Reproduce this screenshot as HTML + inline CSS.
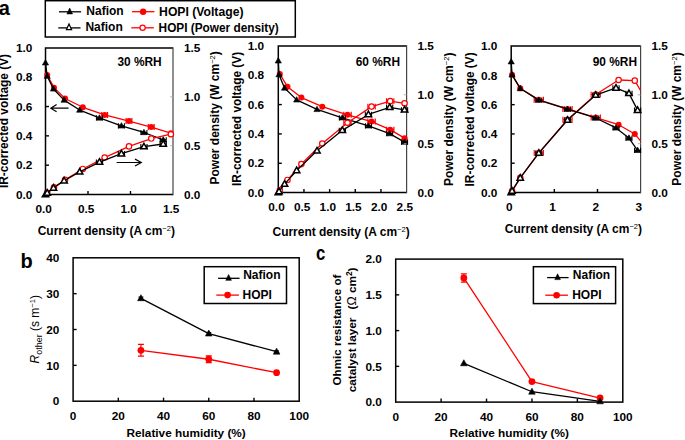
<!DOCTYPE html>
<html><head><meta charset="utf-8"><style>
html,body{margin:0;padding:0;background:#fff;}
svg{display:block;}
text{font-family:"Liberation Sans", sans-serif;}
</style></head><body>
<svg width="685" height="440" viewBox="0 0 685 440" font-family='"Liberation Sans", sans-serif'>
<rect width="685" height="440" fill="#fff"/>
<clipPath id="c1"><rect x="45.5" y="47.9" width="127.5" height="146.6"/></clipPath>
<path d="M173,47.9 H45.5 V194.5 H173" fill="none" stroke="#000" stroke-width="1.5"/>
<line x1="173" y1="47.2" x2="173" y2="195.2" stroke="#444" stroke-width="1.2" />
<polyline points="47.2,75.02 54,87.63 65.05,98.48 82.81,107.27 104.66,114.9 128.97,121.05 151.24,127.06 170.88,133.22" fill="none" stroke="#ff0000" stroke-width="1.3" stroke-linejoin="round" clip-path="url(#c1)"/>
<path d="M101.76,114.9 H107.56 M101.76,111.9 V117.9 M107.56,111.9 V117.9 M126.07,121.05 H131.87 M126.07,118.05 V124.05 M131.87,118.05 V124.05 M148.34,127.06 H154.14 M148.34,124.06 V130.06 M154.14,124.06 V130.06 " stroke="#ff0000" stroke-width="1.2" fill="none"/>
<circle cx="47.2" cy="75.02" r="3.0" fill="#ff0000"/>
<circle cx="54" cy="87.63" r="3.0" fill="#ff0000"/>
<circle cx="65.05" cy="98.48" r="3.0" fill="#ff0000"/>
<circle cx="82.81" cy="107.27" r="3.0" fill="#ff0000"/>
<circle cx="104.66" cy="114.9" r="3.0" fill="#ff0000"/>
<circle cx="128.97" cy="121.05" r="3.0" fill="#ff0000"/>
<circle cx="151.24" cy="127.06" r="3.0" fill="#ff0000"/>
<circle cx="170.88" cy="133.22" r="3.0" fill="#ff0000"/>
<polyline points="45.5,62.85 47.2,76.19 53.49,88.95 64.11,100.09 79.67,110.06 99.47,117.97 121.41,125.89 143.93,132.49 163.22,139.82" fill="none" stroke="#000" stroke-width="1.3" stroke-linejoin="round"/>
<path d="M96.47,117.97 H102.47 M96.47,115.37 V120.57 M102.47,115.37 V120.57 M118.41,125.89 H124.41 M118.41,123.29 V128.49 M124.41,123.29 V128.49 M140.93,132.49 H146.93 M140.93,129.89 V135.09 M146.93,129.89 V135.09 M160.22,139.82 H166.22 M160.22,137.22 V142.42 M166.22,137.22 V142.42 " stroke="#000" stroke-width="1.1" fill="none"/>
<polygon points="45.5,59.61 48.6,65.01 42.4,65.01" fill="#000" stroke="#000" stroke-width="0.6" stroke-linejoin="miter"/>
<polygon points="47.2,72.95 50.3,78.35 44.1,78.35" fill="#000" stroke="#000" stroke-width="0.6" stroke-linejoin="miter"/>
<polygon points="53.49,85.71 56.59,91.11 50.39,91.11" fill="#000" stroke="#000" stroke-width="0.6" stroke-linejoin="miter"/>
<polygon points="64.11,96.85 67.21,102.25 61.01,102.25" fill="#000" stroke="#000" stroke-width="0.6" stroke-linejoin="miter"/>
<polygon points="79.67,106.82 82.77,112.22 76.57,112.22" fill="#000" stroke="#000" stroke-width="0.6" stroke-linejoin="miter"/>
<polygon points="99.47,114.73 102.57,120.13 96.38,120.13" fill="#000" stroke="#000" stroke-width="0.6" stroke-linejoin="miter"/>
<polygon points="121.41,122.65 124.5,128.05 118.31,128.05" fill="#000" stroke="#000" stroke-width="0.6" stroke-linejoin="miter"/>
<polygon points="143.93,129.25 147.03,134.65 140.83,134.65" fill="#000" stroke="#000" stroke-width="0.6" stroke-linejoin="miter"/>
<polygon points="163.22,136.58 166.32,141.98 160.12,141.98" fill="#000" stroke="#000" stroke-width="0.6" stroke-linejoin="miter"/>
<polyline points="47.2,192.91 54,187.38 65.05,179.78 82.81,168.97 104.66,157.56 128.97,146.42 151.24,138.57 170.88,134.24" fill="none" stroke="#ff0000" stroke-width="1.3" stroke-linejoin="round" clip-path="url(#c1)"/>
<circle cx="47.2" cy="192.91" r="2.6999999999999997" fill="#fff" stroke="#ff0000" stroke-width="1.2"/>
<circle cx="54" cy="187.38" r="2.6999999999999997" fill="#fff" stroke="#ff0000" stroke-width="1.2"/>
<circle cx="65.05" cy="179.78" r="2.6999999999999997" fill="#fff" stroke="#ff0000" stroke-width="1.2"/>
<circle cx="82.81" cy="168.97" r="2.6999999999999997" fill="#fff" stroke="#ff0000" stroke-width="1.2"/>
<circle cx="104.66" cy="157.56" r="2.6999999999999997" fill="#fff" stroke="#ff0000" stroke-width="1.2"/>
<circle cx="128.97" cy="146.42" r="2.6999999999999997" fill="#fff" stroke="#ff0000" stroke-width="1.2"/>
<circle cx="151.24" cy="138.57" r="2.6999999999999997" fill="#fff" stroke="#ff0000" stroke-width="1.2"/>
<circle cx="170.88" cy="134.24" r="2.6999999999999997" fill="#fff" stroke="#ff0000" stroke-width="1.2"/>
<polyline points="45.5,194.5 47.2,192.92 53.49,187.89 64.11,180.72 79.67,171.87 99.47,162.1 121.41,153.65 143.93,146.63 163.22,144.01" fill="none" stroke="#000" stroke-width="1.3" stroke-linejoin="round"/>
<path d="M96.38,162.1 H102.57 M96.38,159.4 V164.8 M102.57,159.4 V164.8 M118.31,153.65 H124.5 M118.31,150.95 V156.35 M124.5,150.95 V156.35 M140.83,146.63 H147.03 M140.83,143.93 V149.33 M147.03,143.93 V149.33 M160.12,144.01 H166.32 M160.12,141.31 V146.71 M166.32,141.31 V146.71 " stroke="#000" stroke-width="1.1" fill="none"/>
<polygon points="45.5,191.14 48.7,196.74 42.3,196.74" fill="#fff" stroke="#000" stroke-width="1.5" stroke-linejoin="miter"/>
<polygon points="47.2,189.56 50.4,195.16 44,195.16" fill="#fff" stroke="#000" stroke-width="1.5" stroke-linejoin="miter"/>
<polygon points="53.49,184.53 56.69,190.13 50.29,190.13" fill="#fff" stroke="#000" stroke-width="1.5" stroke-linejoin="miter"/>
<polygon points="64.11,177.36 67.31,182.96 60.91,182.96" fill="#fff" stroke="#000" stroke-width="1.5" stroke-linejoin="miter"/>
<polygon points="79.67,168.51 82.87,174.11 76.47,174.11" fill="#fff" stroke="#000" stroke-width="1.5" stroke-linejoin="miter"/>
<polygon points="99.47,158.74 102.67,164.34 96.27,164.34" fill="#fff" stroke="#000" stroke-width="1.5" stroke-linejoin="miter"/>
<polygon points="121.41,150.29 124.61,155.89 118.2,155.89" fill="#fff" stroke="#000" stroke-width="1.5" stroke-linejoin="miter"/>
<polygon points="143.93,143.27 147.13,148.87 140.73,148.87" fill="#fff" stroke="#000" stroke-width="1.5" stroke-linejoin="miter"/>
<polygon points="163.22,140.65 166.42,146.25 160.03,146.25" fill="#fff" stroke="#000" stroke-width="1.5" stroke-linejoin="miter"/>
<line x1="45.5" y1="165.18" x2="49" y2="165.18" stroke="#000" stroke-width="1.4" />
<line x1="45.5" y1="135.86" x2="49" y2="135.86" stroke="#000" stroke-width="1.4" />
<line x1="45.5" y1="106.54" x2="49" y2="106.54" stroke="#000" stroke-width="1.4" />
<line x1="45.5" y1="77.22" x2="49" y2="77.22" stroke="#000" stroke-width="1.4" />
<text x="32.3" y="198.72" font-size="11.8" text-anchor="end" font-weight="bold" fill="#000" >0.0</text>
<text x="32.3" y="169.4" font-size="11.8" text-anchor="end" font-weight="bold" fill="#000" >0.2</text>
<text x="32.3" y="140.08" font-size="11.8" text-anchor="end" font-weight="bold" fill="#000" >0.4</text>
<text x="32.3" y="110.76" font-size="11.8" text-anchor="end" font-weight="bold" fill="#000" >0.6</text>
<text x="32.3" y="81.44" font-size="11.8" text-anchor="end" font-weight="bold" fill="#000" >0.8</text>
<text x="32.3" y="52.12" font-size="11.8" text-anchor="end" font-weight="bold" fill="#000" >1.0</text>
<line x1="173" y1="145.63" x2="170.2" y2="145.63" stroke="#aaa" stroke-width="0.9" />
<line x1="173" y1="96.77" x2="170.2" y2="96.77" stroke="#aaa" stroke-width="0.9" />
<text x="184" y="198.72" font-size="11.8" text-anchor="start" font-weight="bold" fill="#000" >0.0</text>
<text x="184" y="149.86" font-size="11.8" text-anchor="start" font-weight="bold" fill="#000" >0.5</text>
<text x="184" y="100.99" font-size="11.8" text-anchor="start" font-weight="bold" fill="#000" >1.0</text>
<text x="184" y="52.12" font-size="11.8" text-anchor="start" font-weight="bold" fill="#000" >1.5</text>
<line x1="88" y1="194.5" x2="88" y2="191" stroke="#000" stroke-width="1.4" />
<line x1="130.5" y1="194.5" x2="130.5" y2="191" stroke="#000" stroke-width="1.4" />
<text x="43.7" y="212.6" font-size="11.8" text-anchor="middle" font-weight="bold" fill="#000" >0.0</text>
<text x="86.2" y="212.6" font-size="11.8" text-anchor="middle" font-weight="bold" fill="#000" >0.5</text>
<text x="128.7" y="212.6" font-size="11.8" text-anchor="middle" font-weight="bold" fill="#000" >1.0</text>
<text x="171.2" y="212.6" font-size="11.8" text-anchor="middle" font-weight="bold" fill="#000" >1.5</text>
<text x="117.4" y="66" font-size="11.9" text-anchor="start" font-weight="bold" fill="#000" >30 %RH</text>
<clipPath id="c2"><rect x="278.3" y="45.9" width="128.3" height="146.7"/></clipPath>
<path d="M406.6,45.9 H278.3 V192.6 H406.6" fill="none" stroke="#000" stroke-width="1.5"/>
<line x1="406.6" y1="45.2" x2="406.6" y2="193.3" stroke="#444" stroke-width="1.2" />
<polyline points="279.84,74.07 287.49,86.68 301.39,97.54 322.28,106.63 347.48,114.85 371.55,121.6 390.18,129.67 404.55,138.17" fill="none" stroke="#ff0000" stroke-width="1.3" stroke-linejoin="round" clip-path="url(#c2)"/>
<path d="M343.78,114.85 H351.18 M343.78,111.85 V117.85 M351.18,111.85 V117.85 M367.85,121.6 H375.25 M367.85,118.6 V124.6 M375.25,118.6 V124.6 M386.48,129.67 H393.88 M386.48,126.67 V132.67 M393.88,126.67 V132.67 " stroke="#ff0000" stroke-width="1.2" fill="none"/>
<circle cx="279.84" cy="74.07" r="3.0" fill="#ff0000"/>
<circle cx="287.49" cy="86.68" r="3.0" fill="#ff0000"/>
<circle cx="301.39" cy="97.54" r="3.0" fill="#ff0000"/>
<circle cx="322.28" cy="106.63" r="3.0" fill="#ff0000"/>
<circle cx="347.48" cy="114.85" r="3.0" fill="#ff0000"/>
<circle cx="371.55" cy="121.6" r="3.0" fill="#ff0000"/>
<circle cx="390.18" cy="129.67" r="3.0" fill="#ff0000"/>
<circle cx="404.55" cy="138.17" r="3.0" fill="#ff0000"/>
<polyline points="278.3,60.86 279.02,74.65 284.56,88 296.67,99.89 317,109.42 342.35,117.78 368.42,125.85 389.66,133.63 404.55,142.14" fill="none" stroke="#000" stroke-width="1.3" stroke-linejoin="round"/>
<path d="M339.35,117.78 H345.35 M339.35,115.18 V120.38 M345.35,115.18 V120.38 M365.42,125.85 H371.42 M365.42,123.25 V128.45 M371.42,123.25 V128.45 M386.66,133.63 H392.66 M386.66,131.03 V136.23 M392.66,131.03 V136.23 M401.55,142.14 H407.55 M401.55,139.54 V144.74 M407.55,139.54 V144.74 " stroke="#000" stroke-width="1.1" fill="none"/>
<polygon points="278.3,57.62 281.4,63.02 275.2,63.02" fill="#000" stroke="#000" stroke-width="0.6" stroke-linejoin="miter"/>
<polygon points="279.02,71.41 282.12,76.81 275.92,76.81" fill="#000" stroke="#000" stroke-width="0.6" stroke-linejoin="miter"/>
<polygon points="284.56,84.76 287.66,90.16 281.46,90.16" fill="#000" stroke="#000" stroke-width="0.6" stroke-linejoin="miter"/>
<polygon points="296.67,96.65 299.77,102.05 293.57,102.05" fill="#000" stroke="#000" stroke-width="0.6" stroke-linejoin="miter"/>
<polygon points="317,106.18 320.1,111.58 313.9,111.58" fill="#000" stroke="#000" stroke-width="0.6" stroke-linejoin="miter"/>
<polygon points="342.35,114.54 345.45,119.94 339.25,119.94" fill="#000" stroke="#000" stroke-width="0.6" stroke-linejoin="miter"/>
<polygon points="368.42,122.61 371.52,128.01 365.32,128.01" fill="#000" stroke="#000" stroke-width="0.6" stroke-linejoin="miter"/>
<polygon points="389.66,130.39 392.76,135.79 386.56,135.79" fill="#000" stroke="#000" stroke-width="0.6" stroke-linejoin="miter"/>
<polygon points="404.55,138.9 407.65,144.3 401.45,144.3" fill="#000" stroke="#000" stroke-width="0.6" stroke-linejoin="miter"/>
<polyline points="279.84,190.23 287.49,179.96 301.39,164.08 322.28,143.48 347.48,122.73 371.55,106.59 390.18,101.14 404.55,103.34" fill="none" stroke="#ff0000" stroke-width="1.3" stroke-linejoin="round" clip-path="url(#c2)"/>
<path d="M343.78,122.73 H351.18 M343.78,119.83 V125.63 M351.18,119.83 V125.63 M367.85,106.59 H375.25 M367.85,103.69 V109.49 M375.25,103.69 V109.49 M386.48,101.14 H393.88 M386.48,98.24 V104.04 M393.88,98.24 V104.04 " stroke="#ff0000" stroke-width="1.1" fill="none"/>
<circle cx="279.84" cy="190.23" r="2.6999999999999997" fill="#fff" stroke="#ff0000" stroke-width="1.2"/>
<circle cx="287.49" cy="179.96" r="2.6999999999999997" fill="#fff" stroke="#ff0000" stroke-width="1.2"/>
<circle cx="301.39" cy="164.08" r="2.6999999999999997" fill="#fff" stroke="#ff0000" stroke-width="1.2"/>
<circle cx="322.28" cy="143.48" r="2.6999999999999997" fill="#fff" stroke="#ff0000" stroke-width="1.2"/>
<circle cx="347.48" cy="122.73" r="2.6999999999999997" fill="#fff" stroke="#ff0000" stroke-width="1.2"/>
<circle cx="371.55" cy="106.59" r="2.6999999999999997" fill="#fff" stroke="#ff0000" stroke-width="1.2"/>
<circle cx="390.18" cy="101.14" r="2.6999999999999997" fill="#fff" stroke="#ff0000" stroke-width="1.2"/>
<circle cx="404.55" cy="103.34" r="2.6999999999999997" fill="#fff" stroke="#ff0000" stroke-width="1.2"/>
<polyline points="278.3,192.6 279.02,191.5 284.56,184.09 296.67,170.47 317,150.79 342.35,130.35 368.42,114.46 389.66,107.29 404.55,109.84" fill="none" stroke="#000" stroke-width="1.3" stroke-linejoin="round"/>
<path d="M339.25,130.35 H345.45 M339.25,127.65 V133.05 M345.45,127.65 V133.05 M365.32,114.46 H371.52 M365.32,111.76 V117.16 M371.52,111.76 V117.16 M386.56,107.29 H392.76 M386.56,104.59 V109.99 M392.76,104.59 V109.99 M401.45,109.84 H407.65 M401.45,107.14 V112.54 M407.65,107.14 V112.54 " stroke="#000" stroke-width="1.1" fill="none"/>
<polygon points="278.3,189.24 281.5,194.84 275.1,194.84" fill="#fff" stroke="#000" stroke-width="1.5" stroke-linejoin="miter"/>
<polygon points="279.02,188.14 282.22,193.74 275.82,193.74" fill="#fff" stroke="#000" stroke-width="1.5" stroke-linejoin="miter"/>
<polygon points="284.56,180.73 287.76,186.33 281.36,186.33" fill="#fff" stroke="#000" stroke-width="1.5" stroke-linejoin="miter"/>
<polygon points="296.67,167.11 299.87,172.71 293.47,172.71" fill="#fff" stroke="#000" stroke-width="1.5" stroke-linejoin="miter"/>
<polygon points="317,147.43 320.2,153.03 313.8,153.03" fill="#fff" stroke="#000" stroke-width="1.5" stroke-linejoin="miter"/>
<polygon points="342.35,126.99 345.55,132.59 339.15,132.59" fill="#fff" stroke="#000" stroke-width="1.5" stroke-linejoin="miter"/>
<polygon points="368.42,111.1 371.62,116.7 365.22,116.7" fill="#fff" stroke="#000" stroke-width="1.5" stroke-linejoin="miter"/>
<polygon points="389.66,103.93 392.86,109.53 386.46,109.53" fill="#fff" stroke="#000" stroke-width="1.5" stroke-linejoin="miter"/>
<polygon points="404.55,106.48 407.75,112.08 401.35,112.08" fill="#fff" stroke="#000" stroke-width="1.5" stroke-linejoin="miter"/>
<line x1="278.3" y1="163.26" x2="281.8" y2="163.26" stroke="#000" stroke-width="1.4" />
<line x1="278.3" y1="133.92" x2="281.8" y2="133.92" stroke="#000" stroke-width="1.4" />
<line x1="278.3" y1="104.58" x2="281.8" y2="104.58" stroke="#000" stroke-width="1.4" />
<line x1="278.3" y1="75.24" x2="281.8" y2="75.24" stroke="#000" stroke-width="1.4" />
<text x="264.1" y="196.82" font-size="11.8" text-anchor="end" font-weight="bold" fill="#000" >0.0</text>
<text x="264.1" y="167.48" font-size="11.8" text-anchor="end" font-weight="bold" fill="#000" >0.2</text>
<text x="264.1" y="138.14" font-size="11.8" text-anchor="end" font-weight="bold" fill="#000" >0.4</text>
<text x="264.1" y="108.8" font-size="11.8" text-anchor="end" font-weight="bold" fill="#000" >0.6</text>
<text x="264.1" y="79.46" font-size="11.8" text-anchor="end" font-weight="bold" fill="#000" >0.8</text>
<text x="264.1" y="50.12" font-size="11.8" text-anchor="end" font-weight="bold" fill="#000" >1.0</text>
<line x1="406.6" y1="143.7" x2="403.8" y2="143.7" stroke="#aaa" stroke-width="0.9" />
<line x1="406.6" y1="94.8" x2="403.8" y2="94.8" stroke="#aaa" stroke-width="0.9" />
<text x="417.5" y="196.82" font-size="11.8" text-anchor="start" font-weight="bold" fill="#000" >0.0</text>
<text x="417.5" y="147.92" font-size="11.8" text-anchor="start" font-weight="bold" fill="#000" >0.5</text>
<text x="417.5" y="99.02" font-size="11.8" text-anchor="start" font-weight="bold" fill="#000" >1.0</text>
<text x="417.5" y="50.12" font-size="11.8" text-anchor="start" font-weight="bold" fill="#000" >1.5</text>
<line x1="303.96" y1="192.6" x2="303.96" y2="189.1" stroke="#000" stroke-width="1.4" />
<line x1="329.62" y1="192.6" x2="329.62" y2="189.1" stroke="#000" stroke-width="1.4" />
<line x1="355.28" y1="192.6" x2="355.28" y2="189.1" stroke="#000" stroke-width="1.4" />
<line x1="380.94" y1="192.6" x2="380.94" y2="189.1" stroke="#000" stroke-width="1.4" />
<text x="276.5" y="210.8" font-size="11.8" text-anchor="middle" font-weight="bold" fill="#000" >0.0</text>
<text x="302.16" y="210.8" font-size="11.8" text-anchor="middle" font-weight="bold" fill="#000" >0.5</text>
<text x="327.82" y="210.8" font-size="11.8" text-anchor="middle" font-weight="bold" fill="#000" >1.0</text>
<text x="353.48" y="210.8" font-size="11.8" text-anchor="middle" font-weight="bold" fill="#000" >1.5</text>
<text x="379.14" y="210.8" font-size="11.8" text-anchor="middle" font-weight="bold" fill="#000" >2.0</text>
<text x="404.8" y="210.8" font-size="11.8" text-anchor="middle" font-weight="bold" fill="#000" >2.5</text>
<text x="355.7" y="66" font-size="11.9" text-anchor="start" font-weight="bold" fill="#000" >60 %RH</text>
<clipPath id="c3"><rect x="511.2" y="46.1" width="129.4" height="146.4"/></clipPath>
<path d="M640.6,46.1 H511.2 V192.5 H640.6" fill="none" stroke="#000" stroke-width="1.5"/>
<line x1="640.6" y1="45.4" x2="640.6" y2="193.2" stroke="#444" stroke-width="1.2" />
<polyline points="512.06,74.65 520.26,88.26 538.81,99.83 567.49,108.91 595.74,117.54 618.6,124.72 634.78,133.94 649.23,151.51" fill="none" stroke="#ff0000" stroke-width="1.3" stroke-linejoin="round" clip-path="url(#c3)"/>
<path d="M534.21,99.83 H543.41 M534.21,96.83 V102.83 M543.41,96.83 V102.83 M562.89,108.91 H572.09 M562.89,105.91 V111.91 M572.09,105.91 V111.91 M591.14,117.54 H600.34 M591.14,114.54 V120.54 M600.34,114.54 V120.54 " stroke="#ff0000" stroke-width="1.2" fill="none"/>
<circle cx="512.06" cy="74.65" r="3.0" fill="#ff0000"/>
<circle cx="520.26" cy="88.26" r="3.0" fill="#ff0000"/>
<circle cx="538.81" cy="99.83" r="3.0" fill="#ff0000"/>
<circle cx="567.49" cy="108.91" r="3.0" fill="#ff0000"/>
<circle cx="595.74" cy="117.54" r="3.0" fill="#ff0000"/>
<circle cx="618.6" cy="124.72" r="3.0" fill="#ff0000"/>
<circle cx="634.78" cy="133.94" r="3.0" fill="#ff0000"/>
<polyline points="511.2,61.76 512.06,74.94 520.26,88.56 538.81,100.12 567.49,109.2 595.74,117.98 616.01,127.94 628.95,138.04 637.58,150.34" fill="none" stroke="#000" stroke-width="1.3" stroke-linejoin="round"/>
<path d="M535.81,100.12 H541.81 M535.81,97.52 V102.72 M541.81,97.52 V102.72 M564.49,109.2 H570.49 M564.49,106.6 V111.8 M570.49,106.6 V111.8 M592.74,117.98 H598.74 M592.74,115.38 V120.58 M598.74,115.38 V120.58 M613.01,127.94 H619.01 M613.01,125.34 V130.54 M619.01,125.34 V130.54 M625.95,138.04 H631.95 M625.95,135.44 V140.64 M631.95,135.44 V140.64 M634.58,150.34 H640.58 M634.58,147.74 V152.94 M640.58,147.74 V152.94 " stroke="#000" stroke-width="1.1" fill="none"/>
<polygon points="511.2,58.52 514.3,63.92 508.1,63.92" fill="#000" stroke="#000" stroke-width="0.6" stroke-linejoin="miter"/>
<polygon points="512.06,71.7 515.16,77.1 508.96,77.1" fill="#000" stroke="#000" stroke-width="0.6" stroke-linejoin="miter"/>
<polygon points="520.26,85.32 523.36,90.72 517.16,90.72" fill="#000" stroke="#000" stroke-width="0.6" stroke-linejoin="miter"/>
<polygon points="538.81,96.88 541.91,102.28 535.71,102.28" fill="#000" stroke="#000" stroke-width="0.6" stroke-linejoin="miter"/>
<polygon points="567.49,105.96 570.59,111.36 564.39,111.36" fill="#000" stroke="#000" stroke-width="0.6" stroke-linejoin="miter"/>
<polygon points="595.74,114.74 598.84,120.14 592.64,120.14" fill="#000" stroke="#000" stroke-width="0.6" stroke-linejoin="miter"/>
<polygon points="616.01,124.7 619.11,130.1 612.91,130.1" fill="#000" stroke="#000" stroke-width="0.6" stroke-linejoin="miter"/>
<polygon points="628.95,134.8 632.05,140.2 625.85,140.2" fill="#000" stroke="#000" stroke-width="0.6" stroke-linejoin="miter"/>
<polygon points="637.58,147.1 640.68,152.5 634.48,152.5" fill="#000" stroke="#000" stroke-width="0.6" stroke-linejoin="miter"/>
<polyline points="512.06,190.93 520.26,177.91 538.81,152.96 567.49,119.77 595.74,94.56 618.6,79.98 634.78,80.65 649.23,105.05" fill="none" stroke="#ff0000" stroke-width="1.3" stroke-linejoin="round" clip-path="url(#c3)"/>
<path d="M534.21,152.96 H543.41 M534.21,150.06 V155.86 M543.41,150.06 V155.86 M562.89,119.77 H572.09 M562.89,116.87 V122.67 M572.09,116.87 V122.67 M591.14,94.56 H600.34 M591.14,91.66 V97.46 M600.34,91.66 V97.46 " stroke="#ff0000" stroke-width="1.1" fill="none"/>
<circle cx="512.06" cy="190.93" r="2.6999999999999997" fill="#fff" stroke="#ff0000" stroke-width="1.2"/>
<circle cx="520.26" cy="177.91" r="2.6999999999999997" fill="#fff" stroke="#ff0000" stroke-width="1.2"/>
<circle cx="538.81" cy="152.96" r="2.6999999999999997" fill="#fff" stroke="#ff0000" stroke-width="1.2"/>
<circle cx="567.49" cy="119.77" r="2.6999999999999997" fill="#fff" stroke="#ff0000" stroke-width="1.2"/>
<circle cx="595.74" cy="94.56" r="2.6999999999999997" fill="#fff" stroke="#ff0000" stroke-width="1.2"/>
<circle cx="618.6" cy="79.98" r="2.6999999999999997" fill="#fff" stroke="#ff0000" stroke-width="1.2"/>
<circle cx="634.78" cy="80.65" r="2.6999999999999997" fill="#fff" stroke="#ff0000" stroke-width="1.2"/>
<polyline points="511.2,192.5 512.06,190.93 520.26,177.95 538.81,153.09 567.49,120.03 595.74,95.13 616.01,87.91 628.95,93.38 637.58,110.14" fill="none" stroke="#000" stroke-width="1.3" stroke-linejoin="round"/>
<path d="M535.71,153.09 H541.91 M535.71,150.39 V155.79 M541.91,150.39 V155.79 M564.39,120.03 H570.59 M564.39,117.33 V122.73 M570.59,117.33 V122.73 M592.64,95.13 H598.84 M592.64,92.43 V97.83 M598.84,92.43 V97.83 M612.91,87.91 H619.11 M612.91,85.21 V90.61 M619.11,85.21 V90.61 M625.85,93.38 H632.05 M625.85,90.68 V96.08 M632.05,90.68 V96.08 M634.48,110.14 H640.68 M634.48,107.44 V112.84 M640.68,107.44 V112.84 " stroke="#000" stroke-width="1.1" fill="none"/>
<polygon points="511.2,189.14 514.4,194.74 508,194.74" fill="#fff" stroke="#000" stroke-width="1.5" stroke-linejoin="miter"/>
<polygon points="512.06,187.57 515.26,193.17 508.86,193.17" fill="#fff" stroke="#000" stroke-width="1.5" stroke-linejoin="miter"/>
<polygon points="520.26,174.59 523.46,180.19 517.06,180.19" fill="#fff" stroke="#000" stroke-width="1.5" stroke-linejoin="miter"/>
<polygon points="538.81,149.73 542.01,155.33 535.61,155.33" fill="#fff" stroke="#000" stroke-width="1.5" stroke-linejoin="miter"/>
<polygon points="567.49,116.67 570.69,122.27 564.29,122.27" fill="#fff" stroke="#000" stroke-width="1.5" stroke-linejoin="miter"/>
<polygon points="595.74,91.77 598.94,97.37 592.54,97.37" fill="#fff" stroke="#000" stroke-width="1.5" stroke-linejoin="miter"/>
<polygon points="616.01,84.55 619.21,90.15 612.81,90.15" fill="#fff" stroke="#000" stroke-width="1.5" stroke-linejoin="miter"/>
<polygon points="628.95,90.02 632.15,95.62 625.75,95.62" fill="#fff" stroke="#000" stroke-width="1.5" stroke-linejoin="miter"/>
<polygon points="637.58,106.78 640.78,112.38 634.38,112.38" fill="#fff" stroke="#000" stroke-width="1.5" stroke-linejoin="miter"/>
<line x1="511.2" y1="163.22" x2="514.7" y2="163.22" stroke="#000" stroke-width="1.4" />
<line x1="511.2" y1="133.94" x2="514.7" y2="133.94" stroke="#000" stroke-width="1.4" />
<line x1="511.2" y1="104.66" x2="514.7" y2="104.66" stroke="#000" stroke-width="1.4" />
<line x1="511.2" y1="75.38" x2="514.7" y2="75.38" stroke="#000" stroke-width="1.4" />
<text x="497.3" y="196.72" font-size="11.8" text-anchor="end" font-weight="bold" fill="#000" >0.0</text>
<text x="497.3" y="167.44" font-size="11.8" text-anchor="end" font-weight="bold" fill="#000" >0.2</text>
<text x="497.3" y="138.16" font-size="11.8" text-anchor="end" font-weight="bold" fill="#000" >0.4</text>
<text x="497.3" y="108.88" font-size="11.8" text-anchor="end" font-weight="bold" fill="#000" >0.6</text>
<text x="497.3" y="79.6" font-size="11.8" text-anchor="end" font-weight="bold" fill="#000" >0.8</text>
<text x="497.3" y="50.32" font-size="11.8" text-anchor="end" font-weight="bold" fill="#000" >1.0</text>
<line x1="640.6" y1="143.7" x2="637.8" y2="143.7" stroke="#aaa" stroke-width="0.9" />
<line x1="640.6" y1="94.9" x2="637.8" y2="94.9" stroke="#aaa" stroke-width="0.9" />
<text x="651.5" y="196.72" font-size="11.8" text-anchor="start" font-weight="bold" fill="#000" >0.0</text>
<text x="651.5" y="147.92" font-size="11.8" text-anchor="start" font-weight="bold" fill="#000" >0.5</text>
<text x="651.5" y="99.12" font-size="11.8" text-anchor="start" font-weight="bold" fill="#000" >1.0</text>
<text x="651.5" y="50.32" font-size="11.8" text-anchor="start" font-weight="bold" fill="#000" >1.5</text>
<line x1="554.33" y1="192.5" x2="554.33" y2="189" stroke="#000" stroke-width="1.4" />
<line x1="597.47" y1="192.5" x2="597.47" y2="189" stroke="#000" stroke-width="1.4" />
<text x="509.4" y="210.5" font-size="11.8" text-anchor="middle" font-weight="bold" fill="#000" >0</text>
<text x="552.53" y="210.5" font-size="11.8" text-anchor="middle" font-weight="bold" fill="#000" >1</text>
<text x="595.67" y="210.5" font-size="11.8" text-anchor="middle" font-weight="bold" fill="#000" >2</text>
<text x="638.8" y="210.5" font-size="11.8" text-anchor="middle" font-weight="bold" fill="#000" >3</text>
<text x="592.7" y="65.9" font-size="11.9" text-anchor="start" font-weight="bold" fill="#000" >90 %RH</text>
<text x="37.7" y="234.8" font-size="12.1" font-weight="bold" textLength="137.2" lengthAdjust="spacingAndGlyphs">Current density (A cm<tspan baseline-shift="super" font-size="7.6" font-weight="normal">−2</tspan>)</text>
<text x="272.5" y="235.5" font-size="12.1" font-weight="bold" textLength="137.2" lengthAdjust="spacingAndGlyphs">Current density (A cm<tspan baseline-shift="super" font-size="7.6" font-weight="normal">−2</tspan>)</text>
<text x="504.8" y="232.6" font-size="12.1" font-weight="bold" textLength="137.2" lengthAdjust="spacingAndGlyphs">Current density (A cm<tspan baseline-shift="super" font-size="7.6" font-weight="normal">−2</tspan>)</text>
<text transform="translate(8.2,121) rotate(-90)" x="0" y="0" font-size="11.9" font-weight="bold" text-anchor="middle">IR-corrected voltage (V)</text>
<text transform="translate(240.8,118.9) rotate(-90)" x="0" y="0" font-size="11.9" font-weight="bold" text-anchor="middle">IR-corrected voltage (V)</text>
<text transform="translate(474.2,119.4) rotate(-90)" x="0" y="0" font-size="11.9" font-weight="bold" text-anchor="middle">IR-corrected voltage (V)</text>
<text transform="translate(218.8,117.85) rotate(-90)" x="0" y="0" font-size="12.0" font-weight="bold" text-anchor="middle">Power density (W cm<tspan baseline-shift="super" font-size="7.6" font-weight="normal">−2</tspan>)</text>
<text transform="translate(452.5,119.25) rotate(-90)" x="0" y="0" font-size="12.0" font-weight="bold" text-anchor="middle">Power density (W cm<tspan baseline-shift="super" font-size="7.6" font-weight="normal">−2</tspan>)</text>
<text transform="translate(681.4,119) rotate(-90)" x="0" y="0" font-size="12.0" font-weight="bold" text-anchor="middle">Power density (W cm<tspan baseline-shift="super" font-size="7.6" font-weight="normal">−2</tspan>)</text>
<rect x="45.3" y="0.7" width="250" height="36.3" fill="none" stroke="#000" stroke-width="1.5"/>
<line x1="59" y1="11.8" x2="81.1" y2="11.8" stroke="#000" stroke-width="1.3" />
<polygon points="69.7,8.12 72.5,13.92 66.9,13.92" fill="#000" stroke="#000" stroke-width="0.6" stroke-linejoin="miter"/>
<line x1="58.3" y1="27.9" x2="80.5" y2="27.9" stroke="#000" stroke-width="1.3" />
<polygon points="69,24.04 71.6,29.64 66.4,29.64" fill="#fff" stroke="#000" stroke-width="1.2" stroke-linejoin="miter"/>
<line x1="132.1" y1="11.7" x2="154.4" y2="11.7" stroke="#ff0000" stroke-width="1.3" />
<circle cx="143.1" cy="11.7" r="3.2" fill="#ff0000"/>
<line x1="131.3" y1="27.8" x2="153.8" y2="27.8" stroke="#ff0000" stroke-width="1.3" />
<circle cx="142.6" cy="27.8" r="2.6" fill="#fff" stroke="#ff0000" stroke-width="1.2"/>
<text x="86.3" y="14.7" font-size="12.0" text-anchor="start" font-weight="bold" fill="#000" >Nafion</text>
<text x="85.4" y="30.7" font-size="12.0" text-anchor="start" font-weight="bold" fill="#000" >Nafion</text>
<text x="159.1" y="16" font-size="12.0" text-anchor="start" font-weight="bold" fill="#000" textLength="84.4" lengthAdjust="spacingAndGlyphs">HOPI (Voltage)</text>
<text x="158.6" y="31.7" font-size="12.0" text-anchor="start" font-weight="bold" fill="#000" textLength="120.2" lengthAdjust="spacingAndGlyphs">HOPI (Power density)</text>
<path d="M68.6,108.2 H50.8 M56.6,104.4 L50.8,108.2 L56.6,111.8" fill="none" stroke="#000" stroke-width="1.2"/>
<path d="M116.6,162.5 H141.3 M135,159.1 L141.3,162.5 L135,166.1" fill="none" stroke="#000" stroke-width="1.2"/>
<text x="-1.2" y="15" font-size="20" text-anchor="start" font-weight="bold" fill="#000" >a</text>
<text x="20.5" y="267.6" font-size="20" text-anchor="start" font-weight="bold" fill="#000" >b</text>
<text transform="translate(315.9,260.3) scale(0.84,1)" font-size="20" font-weight="bold">c</text>
<polyline points="140.93,350.29 208.76,359.26 276.59,372.7" fill="none" stroke="#ff0000" stroke-width="1.3" stroke-linejoin="round"/>
<path d="M140.93,344.38 V356.21 M137.93,344.38 h6 M137.93,356.21 h6" stroke="#ff0000" stroke-width="1.2" fill="none"/>
<circle cx="140.93" cy="350.29" r="3.4" fill="#ff0000"/>
<path d="M208.76,355.85 V362.66 M205.76,355.85 h6 M205.76,362.66 h6" stroke="#ff0000" stroke-width="1.2" fill="none"/>
<circle cx="208.76" cy="359.26" r="3.4" fill="#ff0000"/>
<circle cx="276.59" cy="372.7" r="3.4" fill="#ff0000"/>
<polyline points="140.93,298.31 208.76,333.62 276.59,351.73" fill="none" stroke="#000" stroke-width="1.3" stroke-linejoin="round"/>
<path d="M140.93,297.06 V299.57 M138.43,297.06 h5 M138.43,299.57 h5" stroke="#000" stroke-width="1" fill="none"/>
<polygon points="140.93,294.71 144.23,300.71 137.63,300.71" fill="#000" stroke="#000" stroke-width="0.6" stroke-linejoin="miter"/>
<path d="M208.76,332.55 V334.7 M206.26,332.55 h5 M206.26,334.7 h5" stroke="#000" stroke-width="1" fill="none"/>
<polygon points="208.76,330.02 212.06,336.02 205.46,336.02" fill="#000" stroke="#000" stroke-width="0.6" stroke-linejoin="miter"/>
<path d="M276.59,351.01 V352.44 M274.09,351.01 h5 M274.09,352.44 h5" stroke="#000" stroke-width="1" fill="none"/>
<polygon points="276.59,348.13 279.89,354.13 273.29,354.13" fill="#000" stroke="#000" stroke-width="0.6" stroke-linejoin="miter"/>
<rect x="73.1" y="257.8" width="226.1" height="143.4" fill="none" stroke="#000" stroke-width="1.5"/>
<line x1="73.1" y1="365.35" x2="76.6" y2="365.35" stroke="#000" stroke-width="1.4" />
<line x1="73.1" y1="329.5" x2="76.6" y2="329.5" stroke="#000" stroke-width="1.4" />
<line x1="73.1" y1="293.65" x2="76.6" y2="293.65" stroke="#000" stroke-width="1.4" />
<text x="59.4" y="405.42" font-size="11.8" text-anchor="end" font-weight="bold" fill="#000" >0</text>
<text x="59.4" y="369.57" font-size="11.8" text-anchor="end" font-weight="bold" fill="#000" >10</text>
<text x="59.4" y="333.72" font-size="11.8" text-anchor="end" font-weight="bold" fill="#000" >20</text>
<text x="59.4" y="297.87" font-size="11.8" text-anchor="end" font-weight="bold" fill="#000" >30</text>
<text x="59.4" y="262.02" font-size="11.8" text-anchor="end" font-weight="bold" fill="#000" >40</text>
<line x1="118.32" y1="401.2" x2="118.32" y2="397.7" stroke="#000" stroke-width="1.4" />
<line x1="163.54" y1="401.2" x2="163.54" y2="397.7" stroke="#000" stroke-width="1.4" />
<line x1="208.76" y1="401.2" x2="208.76" y2="397.7" stroke="#000" stroke-width="1.4" />
<line x1="253.98" y1="401.2" x2="253.98" y2="397.7" stroke="#000" stroke-width="1.4" />
<text x="73.1" y="419.5" font-size="11.8" text-anchor="middle" font-weight="bold" fill="#000" >0</text>
<text x="118.32" y="419.5" font-size="11.8" text-anchor="middle" font-weight="bold" fill="#000" >20</text>
<text x="163.54" y="419.5" font-size="11.8" text-anchor="middle" font-weight="bold" fill="#000" >40</text>
<text x="208.76" y="419.5" font-size="11.8" text-anchor="middle" font-weight="bold" fill="#000" >60</text>
<text x="253.98" y="419.5" font-size="11.8" text-anchor="middle" font-weight="bold" fill="#000" >80</text>
<text x="299.2" y="419.5" font-size="11.8" text-anchor="middle" font-weight="bold" fill="#000" >100</text>
<text x="186.15" y="436.8" font-size="11.8" text-anchor="middle" font-weight="bold" fill="#000" >Relative humidity (%)</text>
<rect x="204.2" y="266.7" width="82.3" height="36.8" fill="#fff" stroke="#000" stroke-width="1.5"/>
<line x1="218.1" y1="278.3" x2="239.6" y2="278.3" stroke="#000" stroke-width="1.3" />
<polygon points="228.6,274.52 231.4,280.32 225.8,280.32" fill="#000" stroke="#000" stroke-width="0.6" stroke-linejoin="miter"/>
<line x1="216.3" y1="295.1" x2="238.9" y2="295.1" stroke="#ff0000" stroke-width="1.3" />
<circle cx="227.6" cy="295.1" r="3.3" fill="#ff0000"/>
<text x="243.2" y="279.4" font-size="12.0" text-anchor="start" font-weight="bold" fill="#000" >Nafion</text>
<text x="242.6" y="298.8" font-size="12.0" text-anchor="start" font-weight="bold" fill="#000" >HOPI</text>
<polyline points="463.83,277.98 531.96,381.58 600.09,398.02" fill="none" stroke="#ff0000" stroke-width="1.3" stroke-linejoin="round"/>
<path d="M463.83,273.9 V282.05 M460.83,273.9 h6 M460.83,282.05 h6" stroke="#ff0000" stroke-width="1.2" fill="none"/>
<circle cx="463.83" cy="277.98" r="3.4" fill="#ff0000"/>
<circle cx="531.96" cy="381.58" r="3.4" fill="#ff0000"/>
<circle cx="600.09" cy="398.02" r="3.4" fill="#ff0000"/>
<polyline points="463.83,363.35 531.96,391.73 600.09,401.39" fill="none" stroke="#000" stroke-width="1.3" stroke-linejoin="round"/>
<polygon points="463.83,359.75 467.13,365.75 460.53,365.75" fill="#000" stroke="#000" stroke-width="0.6" stroke-linejoin="miter"/>
<polygon points="531.96,388.13 535.26,394.13 528.66,394.13" fill="#000" stroke="#000" stroke-width="0.6" stroke-linejoin="miter"/>
<polygon points="600.09,397.79 603.39,403.79 596.79,403.79" fill="#000" stroke="#000" stroke-width="0.6" stroke-linejoin="miter"/>
<rect x="395.7" y="259.1" width="227.1" height="143" fill="none" stroke="#000" stroke-width="1.5"/>
<line x1="395.7" y1="366.35" x2="399.2" y2="366.35" stroke="#000" stroke-width="1.4" />
<line x1="395.7" y1="330.6" x2="399.2" y2="330.6" stroke="#000" stroke-width="1.4" />
<line x1="395.7" y1="294.85" x2="399.2" y2="294.85" stroke="#000" stroke-width="1.4" />
<text x="381.8" y="406.32" font-size="11.8" text-anchor="end" font-weight="bold" fill="#000" >0.0</text>
<text x="381.8" y="370.57" font-size="11.8" text-anchor="end" font-weight="bold" fill="#000" >0.5</text>
<text x="381.8" y="334.82" font-size="11.8" text-anchor="end" font-weight="bold" fill="#000" >1.0</text>
<text x="381.8" y="299.07" font-size="11.8" text-anchor="end" font-weight="bold" fill="#000" >1.5</text>
<text x="381.8" y="263.32" font-size="11.8" text-anchor="end" font-weight="bold" fill="#000" >2.0</text>
<line x1="441.12" y1="402.1" x2="441.12" y2="398.6" stroke="#000" stroke-width="1.4" />
<line x1="486.54" y1="402.1" x2="486.54" y2="398.6" stroke="#000" stroke-width="1.4" />
<line x1="531.96" y1="402.1" x2="531.96" y2="398.6" stroke="#000" stroke-width="1.4" />
<line x1="577.38" y1="402.1" x2="577.38" y2="398.6" stroke="#000" stroke-width="1.4" />
<text x="395.7" y="420.8" font-size="11.8" text-anchor="middle" font-weight="bold" fill="#000" >0</text>
<text x="441.12" y="420.8" font-size="11.8" text-anchor="middle" font-weight="bold" fill="#000" >20</text>
<text x="486.54" y="420.8" font-size="11.8" text-anchor="middle" font-weight="bold" fill="#000" >40</text>
<text x="531.96" y="420.8" font-size="11.8" text-anchor="middle" font-weight="bold" fill="#000" >60</text>
<text x="577.38" y="420.8" font-size="11.8" text-anchor="middle" font-weight="bold" fill="#000" >80</text>
<text x="622.8" y="420.8" font-size="11.8" text-anchor="middle" font-weight="bold" fill="#000" >100</text>
<text x="509.25" y="436.7" font-size="11.8" text-anchor="middle" font-weight="bold" fill="#000" >Relative humidity (%)</text>
<rect x="533.4" y="266.7" width="82.2" height="36.9" fill="#fff" stroke="#000" stroke-width="1.5"/>
<line x1="547.1" y1="277.6" x2="568.6" y2="277.6" stroke="#000" stroke-width="1.3" />
<polygon points="557.6,273.82 560.4,279.62 554.8,279.62" fill="#000" stroke="#000" stroke-width="0.6" stroke-linejoin="miter"/>
<line x1="545.3" y1="295.2" x2="567.9" y2="295.2" stroke="#ff0000" stroke-width="1.3" />
<circle cx="556.6" cy="295.2" r="3.3" fill="#ff0000"/>
<text x="572.8" y="278.7" font-size="12.0" text-anchor="start" font-weight="bold" fill="#000" >Nafion</text>
<text x="572.2" y="298.9" font-size="12.0" text-anchor="start" font-weight="bold" fill="#000" >HOPI</text>
<text transform="translate(39.3,363.4) rotate(-90)" font-size="12" font-weight="normal" text-anchor="start"><tspan font-style="italic">R</tspan><tspan font-size="9" dy="2.6">other</tspan><tspan dy="-2.6" dx="3.2">(s m</tspan><tspan font-size="7.6" dy="-4.4">−1</tspan><tspan dy="4.4">)</tspan></text>
<text transform="translate(340.9,330.0) rotate(-90)" font-size="11.6" font-weight="bold" text-anchor="middle">Ohmic resistance of</text>
<text transform="translate(356.2,329.9) rotate(-90)" font-size="11.8" font-weight="bold" text-anchor="middle" xml:space="preserve">catalyst layer&#160;&#160;<tspan dx="1.6">(</tspan><tspan font-weight="normal" font-size="12.2">Ω</tspan> cm<tspan font-size="8.4" dy="-4.6">2</tspan><tspan dy="4.6">)</tspan></text>
</svg>
</body></html>
